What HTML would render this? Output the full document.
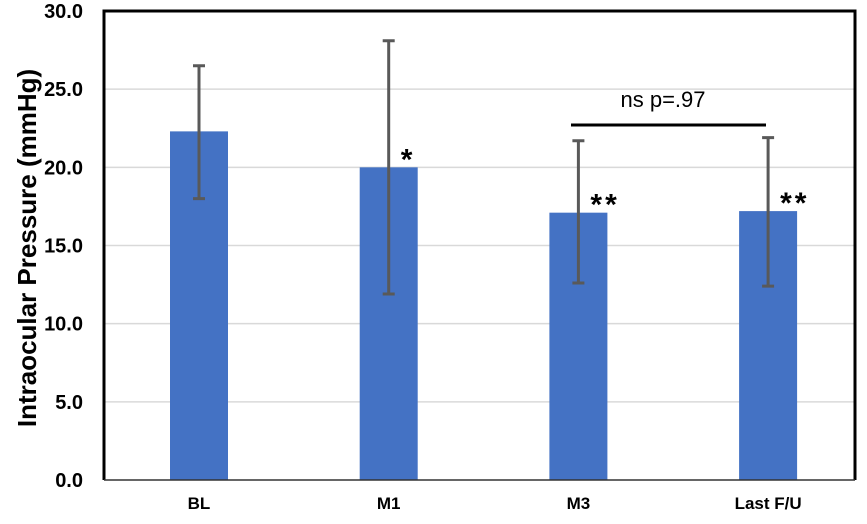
<!DOCTYPE html>
<html><head><meta charset="utf-8"><style>
body{margin:0;background:#fff}
svg{display:block;font-family:"Liberation Sans",Arial,sans-serif}
</style></head><body>
<svg id="chart" width="867" height="524">
<g id="grid"></g>
<g id="bars"></g>
<g id="axes"></g>
<text transform="translate(36,248) rotate(-90)" text-anchor="middle" font-size="26" font-weight="bold" fill="#000">Intraocular Pressure (mmHg)</text>
<line x1="571" y1="125" x2="766" y2="125" stroke="#000" stroke-width="3"/>
<text x="663" y="107" text-anchor="middle" font-size="22" fill="#000">ns p=.97</text>
</svg>
<script>
const categories=["BL","M1","M3","Last F/U"];
const means=[22.3,20.0,17.1,17.2];
const errLow=[18.0,11.9,12.6,12.4];
const errHigh=[26.5,28.1,21.7,21.9];
const stars=["","*","**","**"];
const yTicks=[0,5,10,15,20,25,30];
const tickLabels=["0.0","5.0","10.0","15.0","20.0","25.0","30.0"];
const NS="http://www.w3.org/2000/svg";
const y0=480,yTop=11,left=104,right=855;
function yScale(v){return y0-(v/30)*(y0-yTop);}
function xScale(i){return 199+i*189.7;}
function mk(tag,attrs,parent){const e=document.createElementNS(NS,tag);for(const k in attrs)e.setAttribute(k,attrs[k]);parent.appendChild(e);return e;}
const grid=document.getElementById('grid'),bars=document.getElementById('bars'),axes=document.getElementById('axes');
yTicks.forEach((t,i)=>{
  const y=yScale(t);
  if(t>0&&t<30){const l=mk('line',{x1:left,x2:right,y1:y,y2:y,stroke:'#d9d9d9','stroke-width':1.5},grid);
  
  }
  const tx=mk('text',{x:83,y:y+7,'text-anchor':'end','font-size':20,'font-weight':'bold',fill:'#000'},axes);
  tx.textContent=tickLabels[i];
  
  
});
const frame=mk('path',{d:`M${left},${y0} L${left},${yTop} L${right},${yTop} L${right},${y0}`,fill:'none',stroke:'#000','stroke-width':3},axes);


const xa=mk('line',{x1:left,x2:right,y1:y0,y2:y0,stroke:'#333','stroke-width':1.5},axes);


categories.forEach((c,i)=>{
  const cx=xScale(i),w=58;
  const r=mk('rect',{x:cx-w/2,y:yScale(means[i]),width:w,height:y0-yScale(means[i]),fill:'#4472c4'},bars);
  
  
  const e=mk('path',{d:`M${cx},${yScale(errLow[i])} V${yScale(errHigh[i])} M${cx-6},${yScale(errLow[i])} H${cx+6} M${cx-6},${yScale(errHigh[i])} H${cx+6}`,stroke:'#595959','stroke-width':3,fill:'none'},bars);
  
  
  if(stars[i]){const s=mk('text',{x:cx+12,y:yScale(means[i])+2,'font-size':30,'font-weight':'bold','letter-spacing':3,fill:'#000'},bars);
  s.textContent=stars[i];
  
  }
  const t=mk('text',{x:cx,y:509,'text-anchor':'middle','font-size':17,'font-weight':'bold',fill:'#000'},axes);
  t.textContent=c;
  
  
});
</script>
</body></html>
